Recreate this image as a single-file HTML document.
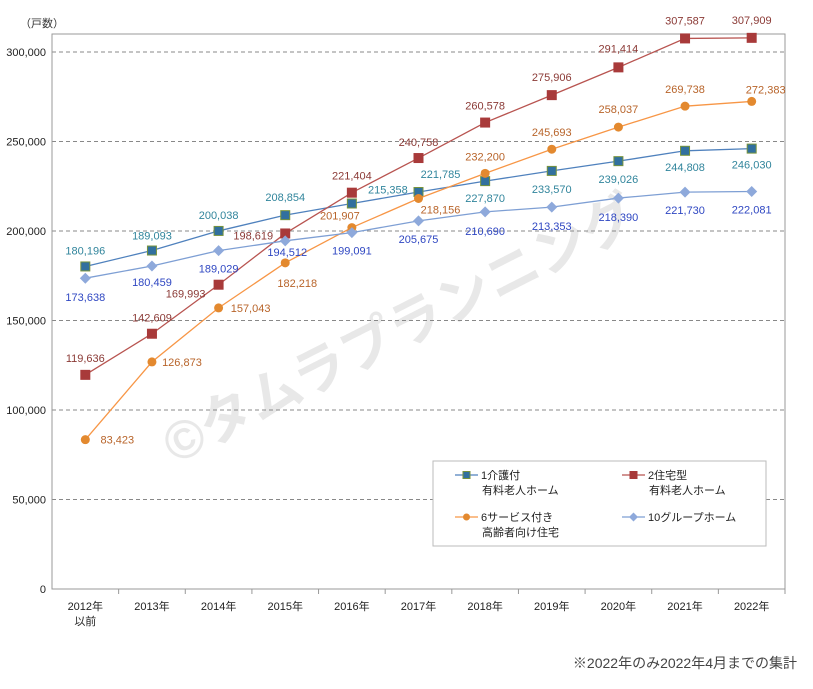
<!DOCTYPE html>
<html><head><meta charset="utf-8">
<style>
body{margin:0;background:#fff;}
svg text{font-family:"Liberation Sans","Noto Sans CJK JP",sans-serif;}
</style></head>
<body>
<svg id="chart" width="813" height="684" viewBox="0 0 813 684" xmlns="http://www.w3.org/2000/svg">
<text x="400" y="348" font-size="54" font-weight="bold" fill="#000" fill-opacity="0.09" text-anchor="middle" transform="rotate(-27 400 330)">©タムラプランニング</text>
<g id="grid"></g>
<g id="axes"></g>
<g id="series"></g>
<g id="legend"></g>
<text x="797" y="668" text-anchor="end" font-size="14" fill="#444">※2022年のみ2022年4月までの集計</text>
<text x="20" y="27" font-size="11" fill="#333">（戸数）</text>
</svg>
<script>
const categories=["2012年","2013年","2014年","2015年","2016年","2017年","2018年","2019年","2020年","2021年","2022年"];
const kaigo=[180196,189093,200038,208854,215358,221785,227870,233570,239026,244808,246030];
const jutaku=[119636,142609,169993,198619,221404,240758,260578,275906,291414,307587,307909];
const sakouju=[83423,126873,157043,182218,201907,218156,232200,245693,258037,269738,272383];
const group=[173638,180459,189029,194512,199091,205675,210690,213353,218390,221730,222081];
const yTicks=[0,50000,100000,150000,200000,250000,300000];
const seriesNames=["1介護付\n有料老人ホーム","2住宅型\n有料老人ホーム","6サービス付き\n高齢者向け住宅","10グループホーム"];
// label offsets (style)
const offKaigo=[[0,-16],[0,-15],[0,-16],[0,-18],[36,-14],[22,-18],[0,17],[0,18],[0,18],[0,16],[0,16]];
const offJutaku=[[0,-17],[0,-16],[-33,9],[-32,2],[0,-17],[0,-16],[0,-17],[0,-18],[0,-19],[0,-18],[0,-18]];
const offSakouju=[[32,0],[30,0],[32,0],[12,20],[-12,-12],[22,11],[0,-17],[0,-17],[0,-18],[0,-17],[14,-12]];
const offGroup=[[0,19],[0,16],[0,18],[2,11],[0,18],[0,18],[0,19],[0,19],[0,19],[0,18],[0,18]];

const NS="http://www.w3.org/2000/svg";
const L=52,R=785,T=34,B=589;
const step=(R-L)/categories.length;
function xPos(i){return L+step*(i+0.5);}
function yPos(v){return B-v*(B-52)/300000;}
function mk(tag,attrs,parent){const e=document.createElementNS(NS,tag);for(const k in attrs)e.setAttribute(k,attrs[k]);parent.appendChild(e);return e;}
const grid=document.getElementById('grid'),axes=document.getElementById('axes'),ser=document.getElementById('series'),leg=document.getElementById('legend');
function fmt(v){return v.toLocaleString('en-US');}

yTicks.forEach(t=>{
  const y=yPos(t);
  if(t>0){const g=mk('line',{x1:L,x2:R,y1:y,y2:y,stroke:'#888','stroke-dasharray':'4,3','stroke-width':1},grid);
  
  }
  const tx=mk('text',{x:46,y:y+4,'text-anchor':'end','font-size':11,fill:'#222'},axes);
  tx.textContent=fmt(t);
  
  
});
const frame=mk('rect',{x:L,y:T,width:R-L,height:B-T,fill:'none',stroke:'#999','stroke-width':1},axes);


categories.forEach((c,i)=>{
  const tk=mk('line',{x1:L+step*(i+1),x2:L+step*(i+1),y1:B,y2:B+5,stroke:'#999'},axes);
  
  
  const tx=mk('text',{x:xPos(i),y:610,'text-anchor':'middle','font-size':11,fill:'#222'},axes);
  tx.textContent=c;
  
  
  if(i===0){const t2=mk('text',{x:xPos(i),y:625,'text-anchor':'middle','font-size':11,fill:'#222'},axes);t2.textContent='以前';
  
  }
});

const defs=[
 {data:kaigo,off:offKaigo,line:'#4F81BD',mf:'#31709F',ms:'#77933C',lab:'#31859C',shape:'sq',name:'kaigo'},
 {data:jutaku,off:offJutaku,line:'#B85450',mf:'#A83A3A',ms:'#A83A3A',lab:'#8B3A36',shape:'sq',name:'jutaku'},
 {data:sakouju,off:offSakouju,line:'#F79646',mf:'#E3892F',ms:'#E3892F',lab:'#B8642A',shape:'ci',name:'sakouju'},
 {data:group,off:offGroup,line:'#7E9FD4',mf:'#8EA9DB',ms:'#8EA9DB',lab:'#2F47C2',shape:'di',name:'group'}];
function marker(shape,x,y,f,s,parent,sz){
  let e;
  if(shape==='sq')e=mk('rect',{x:x-sz,y:y-sz,width:2*sz,height:2*sz,fill:f,stroke:s,'stroke-width':1},parent);
  else if(shape==='ci')e=mk('circle',{cx:x,cy:y,r:sz,fill:f},parent);
  else e=mk('polygon',{points:`${x},${y-sz-1} ${x+sz+1},${y} ${x},${y+sz+1} ${x-sz-1},${y}`,fill:f},parent);
  return e;
}
defs.forEach(d=>{
  const g=mk('g',{},ser);
  
  
  const pts=d.data.map((v,i)=>xPos(i)+','+yPos(v)).join(' ');
  const pl=mk('polyline',{points:pts,fill:'none',stroke:d.line,'stroke-width':1.3},g);
  
  
  d.data.forEach((v,i)=>{
    const m=marker(d.shape,xPos(i),yPos(v),d.mf,d.ms,g,4.5);
    
    
  });
  d.data.forEach((v,i)=>{
    const t=mk('text',{x:xPos(i)+d.off[i][0],y:yPos(v)+d.off[i][1]+4,'text-anchor':'middle','font-size':11,fill:d.lab},g);
    t.textContent=fmt(v);
    
    
  });
});

const box=mk('rect',{x:433,y:461,width:333,height:85,fill:'#fff',stroke:'#bbb'},leg);


const lpos=[[455,475],[622,475],[455,517],[622,517]];
defs.forEach((d,i)=>{
  const [x,y]=lpos[i];
  const g=mk('g',{},leg);
  
  
  mk('line',{x1:x,x2:x+23,y1:y,y2:y,stroke:d.line,'stroke-width':1.3},g);
  marker(d.shape,x+11.5,y,d.mf,d.ms,g,3.5);
  const lines=seriesNames[i].split('\n');
  lines.forEach((s,j)=>{
    const t=mk('text',{x:x+(j===0?26:27),y:y+4+j*15,'font-size':11,fill:'#222'},g);
    t.textContent=s;
  });
});
</script>
</body></html>
